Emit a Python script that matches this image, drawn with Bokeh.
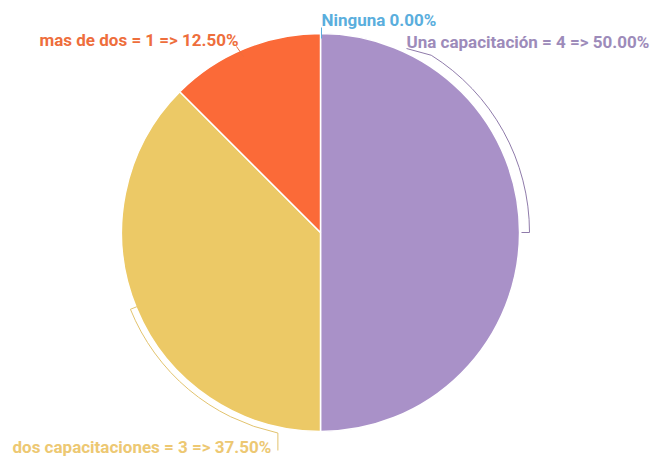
import math
from bokeh.plotting import figure
from bokeh.embed import file_html
from bokeh.resources import INLINE
from bokeh.core.properties import value

categories = ["Ninguna", "Una capacitación", "dos capacitaciones", "mas de dos"]
counts = [0, 4, 3, 1]
percents = [0.00, 50.00, 37.50, 12.50]
colors = ["#5DADE2", "#A991C8", "#ECC966", "#FB6A38"]
label_colors = ["#5AAEDD", "#9D8BBA", "#EDC872", "#EE6E3C"]

W, H = 656, 456
p = figure(width=W, height=H, x_range=(0, W), y_range=(0, H),
           output_backend="svg", toolbar_location=None, min_border=0)
p.axis.visible = False
p.grid.visible = False
p.outline_line_color = None
p.background_fill_color = "white"

cx, cy, R = 320, H - 232, 199
total = sum(counts)
starts, ends = [], []
a = math.pi / 2
for c in counts:
    starts.append(a)
    a = a - 2 * math.pi * c / total
    ends.append(a)

for i in range(len(categories)):
    if counts[i] == 0:
        continue
    p.wedge(x=cx, y=cy, radius=R, start_angle=ends[i], end_angle=starts[i],
            fill_color=colors[i], line_color="white", line_width=1.5)

def pt(r, ang):
    return cx + r * math.cos(ang), cy + r * math.sin(ang)

# purple bracket
rb = 209
p.arc(x=cx, y=cy, radius=rb, start_angle=0, end_angle=math.radians(58),
      line_color="#8F7BAA", line_width=1)
x0, y0 = pt(rb, 0); x1, y1 = pt(rb - 8, 0)
p.line([x0, x1], [y0, y1], line_color="#8F7BAA", line_width=1)
x0, y0 = pt(rb, math.radians(58))
p.line([x0, 406], [y0, H - 48], line_color="#8F7BAA", line_width=1)

# yellow bracket
ry = 205
p.arc(x=cx, y=cy, radius=ry, start_angle=math.radians(202), end_angle=math.radians(258),
      line_color="#E2C36E", line_width=1)
x0, y0 = pt(ry, math.radians(202)); x1, y1 = pt(ry - 7, math.radians(202))
p.line([x0, x1], [y0, y1], line_color="#E2C36E", line_width=1)
x0, y0 = pt(ry, math.radians(258))
p.line([x0, x0], [y0, H - 450], line_color="#E2C36E", line_width=1)

# orange leader
p.line([236, 243], [H - 46, H - 56], line_color="#EE6E3C", line_width=1)
# ninguna leader
p.line([321, 321], [H - 27, H - 38], line_color="#5AAEDD", line_width=1)

labels = [f"{categories[0]} {percents[0]:.2f}%",
          f"{categories[1]} = {counts[1]} => {percents[1]:.2f}%",
          f"{categories[2]} = {counts[2]} => {percents[2]:.2f}%",
          f"{categories[3]} = {counts[3]} => {percents[3]:.2f}%"]
lx = [321, 406, 12, 39]
ly = [H - 19, H - 41, H - 446, H - 39]
for i in range(4):
    p.text(x=[lx[i]], y=[ly[i]], text=[labels[i]], text_color=label_colors[i],
           text_font=value("Roboto"), text_font_size="17px", text_font_style="bold",
           text_baseline="middle", text_align="left")

open("out.html", "w").write(file_html(p, INLINE))
